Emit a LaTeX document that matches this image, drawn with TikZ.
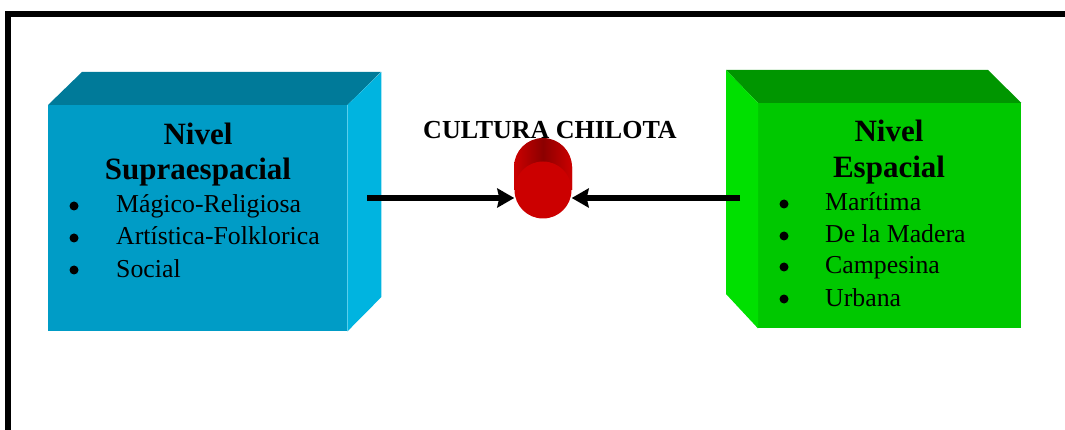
\documentclass[tikz,border=0pt]{standalone}
\usepackage{fontspec}
\setmainfont{Liberation Serif}
\usetikzlibrary{arrows.meta}
\definecolor{bluefront}{RGB}{0,156,198}
\definecolor{bluetop}{RGB}{0,122,153}
\definecolor{blueside}{RGB}{0,180,224}
\definecolor{greenfront}{RGB}{0,200,0}
\definecolor{greentop}{RGB}{0,150,0}
\definecolor{greenside}{RGB}{0,224,0}
\definecolor{redfront}{RGB}{204,0,0}
\definecolor{reddark}{RGB}{140,0,0}
\begin{document}
\begin{tikzpicture}[x=1pt,y=-1pt,
  title/.style={font=\fontsize{31}{35}\selectfont\bfseries, anchor=base, inner sep=0},
  item/.style={font=\fontsize{25.8}{29}\selectfont, anchor=base west, inner sep=0},
  bul/.style={circle, fill=black, minimum size=9pt, inner sep=0},
  face/.style={inner sep=0, anchor=north west},
  conn/.style={line width=6pt, -{Stealth[length=17pt,width=19pt,inset=2pt]}}]
\useasboundingbox (0,0) rectangle (1065,430);
\draw[line width=6pt] (8,430) -- (8,14) -- (1065,14);

% left box
\node[face, fill=bluefront, minimum width=299pt, minimum height=226pt] (sup) at (48,105) {};
\fill[bluetop] (sup.north west) -- ++(34,-33) -- ++(299,0) -- (sup.north east) -- cycle;
\fill[blueside] (sup.north east) -- ++(34,-33) -- ++(0,225) -- (sup.south east) -- cycle;
\node[title] (t1) at (198,145) {Nivel};
\node[title] (t2) at (198,180) {Supraespacial};
\node[bul] (b1) at (74,206) {};
\node[bul] (b2) at (74,238) {};
\node[bul] (b3) at (74,270) {};
\node[item] (i1) at (116,213) {Mágico-Religiosa};
\node[item] (i2) at (116,245) {Artística-Folklorica};
\node[item] (i3) at (116,277) {Social};

% right box
\node[face, fill=greenfront, minimum width=263pt, minimum height=225pt] (esp) at (758,103) {};
\fill[greentop] (esp.north west) -- ++(-32,-33) -- ++(262,0) -- (esp.north east) -- cycle;
\fill[greenside] (esp.north west) -- ++(-32,-33) -- ++(0,224) -- (esp.south west) -- cycle;
\node[title] (u1) at (889,142) {Nivel};
\node[title] (u2) at (889,178) {Espacial};
\node[bul] (c1) at (784,204) {};
\node[bul] (c2) at (784,236) {};
\node[bul] (c3) at (784,267) {};
\node[bul] (c4) at (784,299) {};
\node[item] (j1) at (825,211) {Marítima};
\node[item] (j2) at (825,243) {De la Madera};
\node[item] (j3) at (825,274) {Campesina};
\node[item] (j4) at (825,306) {Urbana};

% center
\node[font=\fontsize{26}{30}\selectfont\bfseries, anchor=base, inner sep=0] (cc) at (550,139) {CULTURA CHILOTA};
\shade[left color=redfront, right color=redfront, middle color=reddark]
  (514,167) arc[start angle=180, end angle=360, x radius=29pt, y radius=-29pt] -- (572,190) -- (514,190) -- cycle;
\shade[left color=redfront, right color=redfront, middle color=reddark]
  (514,167) rectangle (572,190);
\node[circle, fill=redfront, minimum size=57pt, inner sep=0] (cul) at (543,190) {};

\coordinate (la) at (367,198);
\coordinate (ra) at (740,198);
\draw[conn] (la) -- (la -| cul.west);
\draw[conn] (ra) -- (ra -| cul.east);
\end{tikzpicture}
\end{document}
